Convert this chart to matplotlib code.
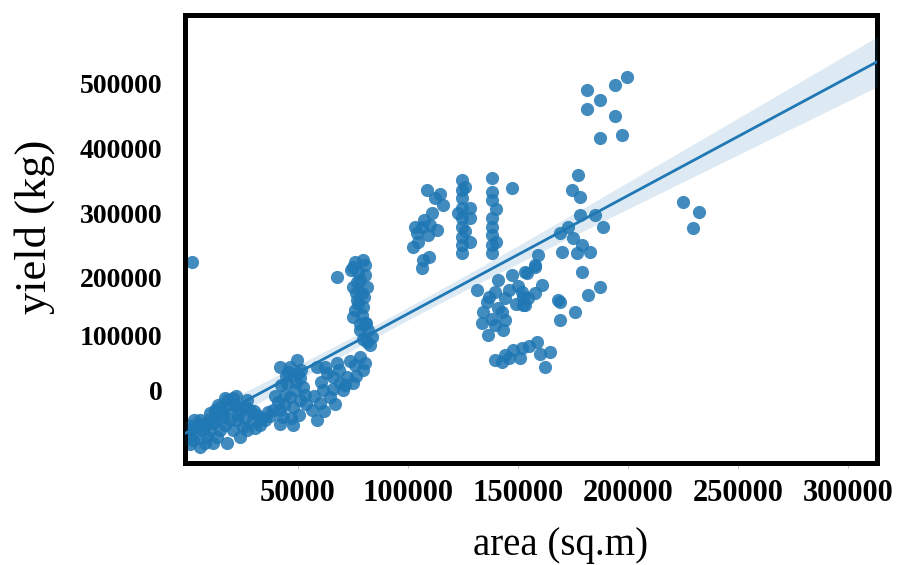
import numpy as np
import matplotlib.pyplot as plt

area_k = [
    # small plots
    0.5, 0.9, 2.3, 5.5, 5.5, 8.6, 10.0, 11.4, 11.4, 14.5, 14.5, 17.7, 17.7, 19.1, 20.5,
    20.5, 23.6, 25.0, 26.8, 28.2, 29.5, 31.4, 33.6, 36.4, 3.2, 6.8, 7.7, 13.2, 15.9, 22.3,
    23.6, 26.8, 0.9, 4.5, 10.0, 12.3, 16.8, 21.4, 25.9, 30.5, 32.7, 35.0,
    1.5, 7.0, 9.5, 12.5, 13.5, 15.5, 17.0, 18.5, 22.0, 23.0, 26.0, 30.0, 37.5, 3.0,
    1.8,
    # ~45k
    41.8, 49.5, 50.0, 45.0, 52.3, 46.4, 38.6, 41.8, 47.7, 50.9, 47.7, 43.2, 48.6, 44.1,
    50.9, 40.9, 53.2, 45.5,
    39.5, 42.5, 44.5, 46.5, 49.0, 51.5, 53.5, 43.5, 47.0, 50.5, 42.0,
    # ~65k
    58.6, 63.2, 67.7, 72.3, 78.2, 79.5, 75.0, 69.1, 61.4, 60.0, 64.5, 58.6, 70.4, 65.9,
    75.9, 56.4,
    57.5, 60.5, 62.5, 66.0, 68.5, 71.5, 73.5, 76.5, 80.5, 62.0, 67.0,
    # ~78k column
    67.7, 75.0, 80.4, 78.2, 79.1, 75.0, 79.5, 75.0, 80.4, 83.6, 81.4, 78.2, 76.8, 81.4,
    77.3, 79.1, 82.7, 75.9,
    76.0, 79.5, 77.0, 80.0, 77.5, 81.0, 78.0, 82.0, 79.5, 76.5, 80.5, 74.0,
    # ~108k
    108.6, 112.3, 115.9, 106.4, 110.0, 113.2, 104.1, 102.3, 106.8, 106.4, 109.1,
    104.5, 107.5, 111.0, 114.5, 109.5, 103.0,
    # ~125k
    124.5, 124.5, 124.5, 124.5, 124.5, 124.5, 124.5, 124.5, 124.5, 128.2, 128.2, 128.2,
    126.0, 126.0, 122.5,
    # ~138k
    138.2, 138.2, 138.2, 138.2, 138.2, 138.2, 138.2, 138.2, 147.3, 140.0, 140.0,
    # ~178k
    177.3, 174.5, 178.2, 178.2, 185.0, 188.6, 172.7, 169.1, 175.0, 179.1, 170.0, 176.8,
    182.7, 179.1, 187.3, 181.8,
    # ~160k
    159.1, 154.1, 157.7, 160.9, 152.3, 157.7, 153.2, 169.1, 175.9, 169.1,
    # ~145k below the line
    131.4, 140.9, 147.3, 153.2, 157.7, 139.5, 135.9, 144.1, 151.8, 154.5, 152.3, 142.7,
    133.6, 139.5, 136.4, 144.1, 168.2,
    134.0, 137.0, 141.0, 146.0, 149.0, 138.0, 143.0, 150.0,
    139.5, 144.1, 147.7, 151.8, 158.6, 164.5, 162.3, 142.7, 150.9,
    146.0, 155.0, 160.0,
    # top right
    181.4, 187.3, 181.4, 194.1, 199.5, 194.1, 187.3, 197.3,
    225.0, 232.2, 229.5,
]
yield_k = [
    4.1, 13.6, 0.0, 27.2, -9.5, 4.1, 36.8, 23.2, -4.1, 45.0, 13.6, 54.5, -4.1, 27.2, 57.2,
    13.6, 40.9, 17.7, 54.5, 40.9, 27.2, 34.1, 30.0, 38.1, 6.8, 13.6, -4.1, 4.1, 31.3, 27.2,
    4.1, 13.6, -5.4, 17.7, 13.6, 40.9, 20.4, 47.7, 30.0, 16.3, 20.4, 27.2,
    20.0, 22.0, 28.0, 30.0, 48.0, 38.0, 58.0, 44.0, 60.0, 35.0, 45.0, 40.0, 33.0, 28.0,
    242.5,
    99.5, 109.0, 91.3, 77.7, 72.2, 58.6, 40.9, 40.9, 45.0, 54.5, 20.4, 31.3, 68.1, 61.3,
    84.5, 51.8, 61.3, 92.6,
    60.0, 75.0, 88.0, 100.0, 80.0, 95.0, 50.0, 48.0, 30.0, 35.0, 22.0,
    99.5, 91.3, 104.9, 85.8, 113.1, 95.4, 77.7, 77.7, 68.1, 50.4, 58.6, 27.2, 68.1, 85.8,
    102.2, 40.9,
    60.0, 80.0, 100.0, 70.0, 95.0, 75.0, 108.0, 88.0, 105.0, 40.0, 50.0,
    222.1, 235.7, 238.4, 218.0, 200.3, 208.4, 181.2, 167.6, 159.4, 140.3, 133.5, 149.9,
    190.7, 208.4, 228.9, 170.3, 129.4, 177.1,
    243.0, 245.0, 215.0, 195.0, 185.0, 160.0, 158.0, 150.0, 138.0, 200.0, 225.0, 232.0,
    340.6, 329.7, 320.2, 290.2, 292.9, 286.1, 282.0, 262.9, 245.2, 234.3, 279.3,
    270.0, 300.0, 310.0, 335.0, 250.0, 290.0,
    354.2, 340.6, 329.7, 316.1, 302.5, 290.2, 276.6, 265.7, 254.8, 316.1, 302.5, 269.8,
    345.0, 285.0, 310.0,
    357.0, 337.9, 327.0, 302.5, 290.2, 279.3, 265.7, 254.8, 343.3, 315.0, 270.0,
    361.0, 340.6, 331.1, 306.5, 306.5, 290.2, 290.2, 282.0, 275.2, 265.7, 256.1, 254.8,
    256.1, 228.9, 208.4, 197.5,
    252.0, 227.5, 235.7, 211.2, 194.8, 200.3, 183.9, 188.0, 174.4, 163.5,
    204.4, 218.0, 224.8, 228.9, 238.4, 201.6, 188.0, 193.5, 201.6, 193.5, 183.9, 174.4,
    159.4, 156.7, 143.1, 163.5, 190.7,
    175.0, 195.0, 180.0, 205.0, 185.0, 165.0, 150.0, 210.0,
    109.0, 115.8, 122.6, 125.3, 133.5, 119.9, 99.5, 106.3, 111.7,
    112.0, 128.0, 118.0,
    476.8, 463.2, 451.0, 483.7, 494.5, 441.4, 411.4, 415.5,
    324.2, 310.6, 288.8,
]

x_ticks = [50000, 100000, 150000, 200000, 250000, 300000]
y_labels = ['0', '100000', '200000', '300000', '400000', '500000']
# the y labels in the picture do not sit on a regular grid
y_label_at = [68100, 143100, 222100, 309300, 397800, 486400]

area = np.array(area_k) * 1000
yld = np.array(yield_k) * 1000

plt.rcParams['font.family'] = ['Liberation Serif', 'DejaVu Serif']

fig, ax = plt.subplots(figsize=(8.97, 5.65), dpi=100)
fig.subplots_adjust(left=0.206, right=0.978, bottom=0.181, top=0.974)

blue = '#1f77b4'
ax.scatter(area, yld, s=90, color=blue, alpha=0.85, linewidths=0, zorder=2)

# linear fit with a 95% band, like seaborn's regplot
xlim = (-1400, 313200)
slope, icpt = np.polyfit(area, yld, 1)
xs = np.linspace(xlim[0], xlim[1], 200)
fit = slope * xs + icpt
n = len(area)
resid = yld - (slope * area + icpt)
s = np.sqrt(np.sum(resid ** 2) / (n - 2))
sxx = np.sum((area - area.mean()) ** 2)
ci = 1.97 * s * np.sqrt(1 / n + (xs - area.mean()) ** 2 / sxx)
ax.fill_between(xs, fit - ci, fit + ci, color=blue, alpha=0.15, lw=0, zorder=3)
ax.plot(xs, fit, color=blue, lw=2, zorder=4)

ax.set_xlim(*xlim)
ax.set_ylim(-30650, 579700)

ax.set_xticks(x_ticks)
ax.set_xticklabels([str(t) for t in x_ticks], fontsize=22, fontweight='bold')
ax.set_yticks(y_label_at)
ax.set_yticklabels(y_labels, fontsize=20, fontweight='bold')
ax.tick_params(axis='x', length=3.5, width=0.8, color='#bbbbbb', pad=8)
ax.tick_params(axis='y', length=0, pad=16)

for sp in ax.spines.values():
    sp.set_linewidth(3.6)
    sp.set_color('black')

ax.set_ylabel('yield (kg)', fontsize=32)
ax.yaxis.set_label_coords(-0.188, 0.526)
ax.set_xlabel('area (sq.m)', fontsize=28)
ax.xaxis.set_label_coords(0.542, -0.144)

fig.savefig('out.png', dpi=100)
